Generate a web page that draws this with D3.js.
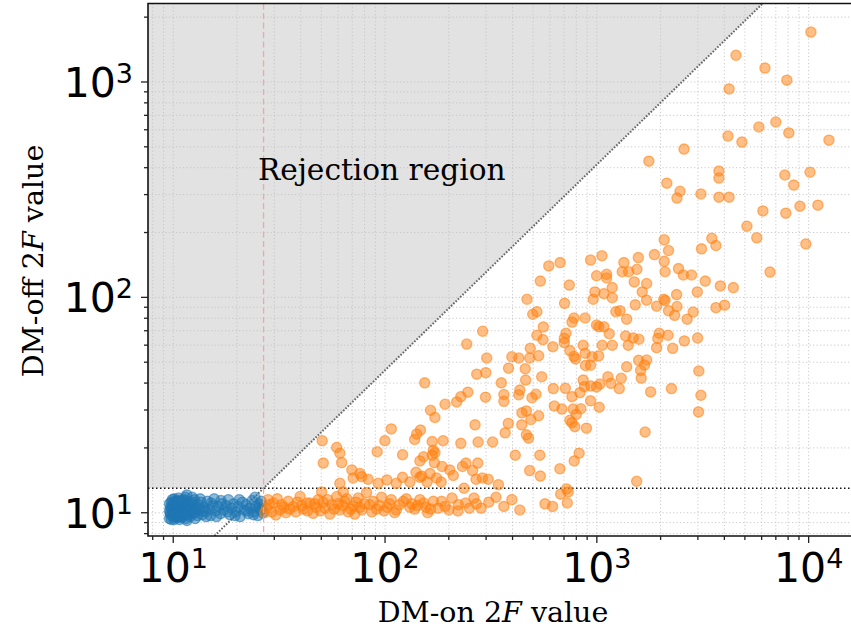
<!DOCTYPE html>
<html lang="en">
<head>
  <meta charset="UTF-8">
  <title>DM-on vs DM-off 2F</title>
  <style>
    body { margin: 0; background: #fff; }
    svg { display: block; }
    .serif { font-family: "DejaVu Serif", serif; fill: #000; }
    .tick-label { font-family: "DejaVu Sans", sans-serif; fill: #000; }
  </style>
</head>
<body>
  <svg width="851" height="629"></svg>

  <script src="https://d3js.org/d3.v7.min.js"></script>
  <script>
    // axis limits and thresholds (data units)
    const xLimits = [7.6, 18000];
    const yLimits = [7.8, 2314];
    const xMajorTicks = [10, 100, 1000, 10000];
    const yMajorTicks = [10, 100, 1000];
    const threshX = 26.7;   // red dashed line
    const threshY = 13.0;   // horizontal dotted line
    const diagSlope = 0.955; // log-log slope of the rejection boundary

    // points below threshold (blue)
    const bluePoints = [
      [9.6,9.4],[9.7,10.0],[9.7,10.6],[9.8,11.2],[9.9,9.7],[10.0,10.3],[10.0,11.0],[10.1,9.3],[10.1,11.6],
      [10.2,9.9],[10.2,10.7],[10.3,10.1],[10.3,11.3],[10.4,9.5],[10.4,10.4],[10.5,11.0],[10.5,9.8],[10.6,10.2],
      [10.6,11.7],[10.7,9.3],[10.7,10.6],[10.8,11.2],[10.9,9.9],[10.9,10.4],[11.0,9.5],[11.0,11.0],[11.1,10.2],
      [11.2,10.8],[11.2,9.7],[11.3,11.4],[11.4,10.3],[11.5,9.4],[11.5,10.9],[11.6,12.1],[11.7,10.0],[11.8,10.6],
      [11.9,11.2],[12.0,9.6],[12.1,10.3],[12.2,11.0],[12.4,9.9],[12.5,10.6],[12.6,11.5],[12.8,10.2],[13.0,9.7],
      [13.1,10.9],[13.3,10.4],[13.5,11.2],[13.7,9.8],[14.0,10.6],[14.2,10.1],[14.5,11.3],[14.8,10.4],[15.0,9.7],
      [15.3,10.8],[15.6,11.6],[15.9,10.2],[16.3,10.7],[16.7,9.9],[17.0,11.0],[17.4,10.3],[17.8,10.8],[18.2,11.5],
      [18.5,9.8],[18.9,10.5],[19.3,11.0],[19.8,10.1],[20.2,10.7],[20.7,9.6],[21.2,11.2],[21.6,10.3],[22.1,10.9],
      [22.6,9.9],[23.1,10.5],[23.6,11.4],[24.1,10.1],[24.3,11.8],[24.6,10.7],[25.1,9.7],[25.5,11.0],[25.9,10.3],
      [26.3,10.8],[26.5,10.0],[10.0,9.6],[10.4,11.3],[10.8,10.0],[11.0,10.6],[11.4,11.8],[10.2,10.9],[10.6,9.6],
      [11.2,11.5],[12.0,10.0],[12.3,11.8],[9.9,10.8],[10.5,10.1],[11.6,9.2],[12.7,9.4],
      [9.6,10.2],[9.6,11.0],[9.7,9.8],[9.8,10.4],[9.8,9.3],[9.9,11.5],[10.0,10.0],[10.1,10.5],[10.1,10.0],
      [10.2,11.3],[10.3,9.6],[10.3,10.7],[10.4,10.0],[10.5,10.6],[10.6,10.9],[10.7,11.4],[10.7,10.0],[10.8,9.6],
      [10.9,10.8],[11.0,10.1],[11.1,11.3],[11.2,10.4],[11.3,9.9],[11.4,10.8],[11.5,10.4],[11.7,11.0],[11.8,9.8],
      [12.0,10.8],[12.2,10.4],[12.4,11.2],[12.6,10.0],[13.0,10.5],[13.4,11.6],[13.8,10.2],[14.3,9.6],[15.1,11.1],
      [16.0,9.6],[16.8,11.4],[18.0,10.1],[19.6,9.7],[20.5,11.5],[22.3,10.2],[23.9,9.8],[25.3,10.5],[26.0,11.3]
    ];

    // points above threshold (orange)
    const orangePoints = [
      [10250,1705],[4540,1330],[6220,1160],[7890,1020],[4210,928],[7000,652],[5820,618],[8060,580],[4160,561],
      [4840,526],[12470,537],[2580,488],[1760,429],[3770,386],[3770,358],[7720,370],[10150,381],[2140,339],
      [8510,332],[2470,311],[3100,302],[3770,292],[4210,292],[2390,289],
      [5110,214],[5690,189],[6080,252],[7800,246],[9100,265],[9700,177],[6570,131],[11060,268],
      [2080,185],[3490,188],[3650,174],[3120,168],[2180,165],[1870,158],[1057,156],[1570,153],[934,149],
      [671,145],[593,140],[1342,145],[2080,147],[1546,135],[1318,131.5],[1413,131.5],[2100,131.5],[2430,136],
      [2560,127],[2800,127],[1112,128],[1112,123],[997,126],[541,119],[741,114],[1502,118],[1718,116],
      [3250,119],[3830,113],[4410,111],[1182,111],[979,106],[1080,104],[1638,106],[2380,103],[2980,106],
      [961,98],[1182,99.6],[1718,97],[2070,98],[2100,96.6],[468,98],[704,93.8],[1518,92.3],[1915,91],
      [2180,86.7],[2390,90.7],[3650,89.6],[4010,92],[521,85.8],[498,83.5],[1230,85.8],[1286,86.7],[2330,82.5],
      [2850,85.5],[2670,79.2],[1383,79.2],[780,80.2],[763,76.8],[880,80.2],[997,74.4],[1023,73],[1080,73],
      [559,72.9],[289,69.6],[1144,67.8],[521,66.7],[715,68.1],[1367,66.2],[1485,64.8],[1580,63.9],[1970,68.1],
      [2170,66.7],[1940,64.5],[2990,64.8],[2590,62.8],[557,63.6],[702,64.5],[702,61.6],[243,60.7],[620,59],
      [862,59.9],[1060,59.9],[1182,59.9],[1407,59.9],[1915,58.4],[2280,58],[485,58],[746,56.6],[880,55],
      [531,53.6],[302,52.3],[397,53],[428,52.3],[482,52.3],[780,53.2],[793,51.8],[951,53],[1020,53.5],
      [1575,51],[1718,51.2],[1680,48.5],[1610,45.8],[1383,47.6],[884,48.3],[934,48.4],[459,46.6],[383,46.9],
      [271,44],[299,44.7],[549,42.8],[461,41.3],[3030,45.5],[1620,42.2],[1304,42.1],[1128,42.8],[862,41.3],
      [154,40.1],[354,40.1],[1166,39.9],[936,38.8],[1034,39.6],[997,38.4],[710,37.8],[623,37.7],[874,38.5],
      [1276,37.7],[2250,37.7],[246,36.3],[228,34.6],[298,34.4],[433,37.1],[428,35.3],[364,35.4],[516,35.5],
      [832,36.1],[1795,36.4],[494,34.2],[763,34.6],[3100,35.1],[364,32.9],[218,32.7],[192,31.9],[934,33.1],
      [630,31.3],[684,30.3],[773,30.3],[840,30.4],[1026,30.9],[164,29.9],[172,27.7],[443,29.1],[465,29.7],
      [531,28.2],[488,27.1],[3020,29.4],[799,28.6],[746,26.9],[382,26],[442,25.6],[266,25.6],[763,26.2],
      [787,25.1],[893,24.7],[369,23.5],[1690,23.7],[147,24.2],[138,21.9],[465,23],[476,22.2],[188,21.6],
      [167,21.4],[228,21],[275,21.3],[322,21.3],[169,19.5],[121,18.6],[412,18.5],[538,18.5],[825,18.9],
      [172,19],[152,18.2],[146,17.4],[171,17.1],[782,17.4],[241,17],[274,17],[186,16.4],[232,16.4],
      [669,16],[482,15.7],[259,15.7],[202,15.8],[140,15.4],[163,15.2],[146,14.6],[210,14.9],[541,14.8],
      [121,14.6],[288,14.5],[307,14.3],[269,14.3],[184,13.9],[158,13.9],[1542,14],[343,13.5],[236,13],[720,12.9],
      [50.5,21.6],[59.1,20.1],[61.2,18.9],[62.4,17.1],[51.1,17],[69.7,15.8],[76.1,15.2],[77.6,14.7],[83.2,14.3],
      [91.8,19.2],[107,24.5],[99.8,21.6],[70.7,14.5],[61.2,13.7],[63.5,12.5],[50.2,12.5],[102,14.2],[92.8,13.7],
      [113,13.7],[167,18.5],[141,23.2],[149,14.8],[175,14.5],[131,13.9],
      [27.6,10.5],[29.7,11.1],[31.9,10.3],[34.9,11.3],[36.9,10.7],[39.7,11.9],[41.1,10.4],[44.2,11.1],[45.8,9.94],
      [48.4,11.5],[52,10.5],[56,10.9],[59.1,11.9],[61.2,10.3],[64.7,11.3],[67,10.1],[70.7,10.7],[74.7,11.7],
      [77.6,10.3],[81.8,12.4],[84.6,10.9],[91.2,10.4],[96.3,11.8],[102,10.6],[107,11.5],[113,10.3],[122,11.3],
      [131,10.6],[138,10.4],[146,11.5],[156,10.6],[169,11.3],[178,10.5],[192,10.7],[207,11.7],[221,10.2],
      [240,11.1],[263,11.7],[284,10.5],[309,11.2],[334,11.8],[364,10.7],[397,11.5],[433,10.3],[569,11.0],
      [618,10.7],[675,12.2],[733,12.5],[725,11.1],
      [28,11.5],[30.5,9.76],[33.3,10.6],[37.9,10.1],[42.8,11.1],[47.2,10.6],[54.9,9.86],[72,9.86],[86.7,10.1],
      [111,10],[159,10],[222,10.9],
      [27,10.0],[28.5,10.9],[29.2,10.1],[31,11.6],[32.5,10.9],[34,10.0],[35.5,10.4],[38.5,11.2],[40.5,10.8],
      [43,10.2],[46.5,11.0],[49.5,10.2],[51,11.2],[53.5,11.5],[57.5,10.4],[60,11.0],[63,10.8],[66,11.6],
      [69,10.4],[73,11.2],[76,10.6],[80,11.0],[88,11.3],[94,10.8],[99,10.2],[105,11.0],[117,10.9],
      [126,11.6],[134,11.0],[142,10.8],[152,11.1],[164,10.4],[185,11.3],[200,10.3],[250,10.5],[270,11.0]
    ];

    const svg = d3.select("svg");
    const plotLeft = 148, plotTop = 3.5, plotBottom = 536;
    const xDecade = 211.8;
    const plotRight = plotLeft + xDecade * Math.log10(xLimits[1] / xLimits[0]);

    const x = d3.scaleLog().domain(xLimits).range([plotLeft, plotRight]);
    const y = d3.scaleLog().domain(yLimits).range([plotBottom, plotTop]);

    svg.append("defs").append("clipPath").attr("id", "plot")
      .append("rect").attr("x", plotLeft).attr("y", plotTop)
      .attr("width", plotRight - plotLeft).attr("height", plotBottom - plotTop);

    const plot = svg.append("g").attr("clip-path", "url(#plot)");

    // rejection boundary: y = threshY * (x / threshX)^diagSlope
    const diag = v => threshY * Math.pow(v / threshX, diagSlope);
    const diagXAtTop = threshX * Math.pow(yLimits[1] / threshY, 1 / diagSlope);

    const region = [
      [xLimits[0], yLimits[1]],
      [xLimits[0], threshY],
      [threshX, threshY],
      [diagXAtTop, yLimits[1]]
    ];
    plot.append("path")
      .attr("d", d3.line().x(d => x(d[0])).y(d => y(d[1]))(region) + "Z")
      .attr("fill", "#e2e2e2");

    // minor + major positions
    function logTicks(lo, hi) {
      const out = [];
      for (let e = Math.floor(Math.log10(lo)); e <= Math.ceil(Math.log10(hi)); e++) {
        for (let m = 1; m <= 9; m++) {
          const v = m * Math.pow(10, e);
          if (v >= lo && v <= hi) out.push(v);
        }
      }
      return out;
    }
    const xAll = logTicks(xLimits[0], xLimits[1]);
    const yAll = logTicks(yLimits[0], yLimits[1]);

    const grid = plot.append("g")
      .attr("stroke", "#c4c4c4")
      .attr("stroke-width", 0.9)
      .attr("stroke-dasharray", "1.2,2.3");
    grid.selectAll(".gx").data(xAll).enter().append("line")
      .attr("x1", d => x(d)).attr("x2", d => x(d))
      .attr("y1", plotTop).attr("y2", plotBottom);
    grid.selectAll(".gy").data(yAll).enter().append("line")
      .attr("y1", d => y(d)).attr("y2", d => y(d))
      .attr("x1", plotLeft).attr("x2", plotRight);

    // boundary lines
    plot.append("line")
      .attr("x1", x(xLimits[0])).attr("y1", y(diag(xLimits[0])))
      .attr("x2", x(xLimits[1])).attr("y2", y(diag(xLimits[1])))
      .attr("stroke", "#666").attr("stroke-width", 2)
      .attr("stroke-dasharray", "1.6,1.6");

    plot.append("line")
      .attr("x1", plotLeft).attr("x2", plotRight)
      .attr("y1", y(threshY)).attr("y2", y(threshY))
      .attr("stroke", "#111").attr("stroke-width", 1.5)
      .attr("stroke-dasharray", "1.5,2.5");

    // scatter
    function scatter(data, color) {
      plot.append("g").selectAll("circle")
        .data(data)
        .enter().append("circle")
        .attr("cx", d => x(d[0]))
        .attr("cy", d => y(d[1]))
        .attr("r", 5.1)
        .attr("fill", color)
        .attr("fill-opacity", 0.5)
        .attr("stroke", color)
        .attr("stroke-opacity", 0.55)
        .attr("stroke-width", 1.3);
    }
    scatter(bluePoints, "#1f77b4");
    scatter(orangePoints, "#ff7f0e");

    plot.append("line")
      .attr("x1", x(threshX)).attr("x2", x(threshX))
      .attr("y1", plotTop).attr("y2", plotBottom)
      .attr("stroke", "#f4a0a0").attr("stroke-opacity", 0.9)
      .attr("stroke-width", 1.3)
      .attr("stroke-dasharray", "6,3.5");

    // spines
    const spines = svg.append("g").attr("stroke", "#111").attr("stroke-width", 1.6).attr("fill", "none");
    spines.append("path").attr("d", `M${plotRight},${plotTop}H${plotLeft}V${plotBottom}H${plotRight}`);

    // ticks
    const tk = svg.append("g").attr("stroke", "#222").attr("stroke-width", 1.3);
    tk.selectAll(".tx").data(xAll).enter().append("line")
      .attr("x1", d => x(d)).attr("x2", d => x(d))
      .attr("y1", plotBottom).attr("y2", d => plotBottom + (xMajorTicks.includes(d) ? 7 : 4));
    tk.selectAll(".ty").data(yAll).enter().append("line")
      .attr("y1", d => y(d)).attr("y2", d => y(d))
      .attr("x1", plotLeft).attr("x2", d => plotLeft - (yMajorTicks.includes(d) ? 7 : 4));

    // tick labels
    const xl = svg.append("g").selectAll("text").data(xMajorTicks).enter().append("text")
      .attr("class", "tick-label")
      .attr("x", d => x(d)).attr("y", 582)
      .attr("text-anchor", "middle")
      .attr("font-size", 41);
    xl.append("tspan").text("10");
    xl.append("tspan").attr("font-size", 27).attr("dy", -14).text(d => Math.round(Math.log10(d)));

    const yl = svg.append("g").selectAll("text").data(yMajorTicks).enter().append("text")
      .attr("class", "tick-label")
      .attr("x", 133).attr("y", d => y(d) + 15)
      .attr("text-anchor", "end")
      .attr("font-size", 41);
    yl.append("tspan").text("10");
    yl.append("tspan").attr("font-size", 27).attr("dy", -14).text(d => Math.round(Math.log10(d)));

    // axis labels
    const xLab = svg.append("text").attr("class", "serif")
      .attr("x", 493).attr("y", 622)
      .attr("text-anchor", "middle").attr("font-size", 28.5);
    xLab.append("tspan").text("DM-on 2");
    xLab.append("tspan").attr("font-style", "italic").text("F");
    xLab.append("tspan").text(" value");

    const yLab = svg.append("text").attr("class", "serif")
      .attr("transform", "translate(43,261) rotate(-90)")
      .attr("text-anchor", "middle").attr("font-size", 28.5);
    yLab.append("tspan").text("DM-off 2");
    yLab.append("tspan").attr("font-style", "italic").text("F");
    yLab.append("tspan").text(" value");

    svg.append("text").attr("class", "serif")
      .attr("x", x(25.1)).attr("y", y(351))
      .attr("font-size", 29.6)
      .text("Rejection region");
  </script>
</body>
</html>
